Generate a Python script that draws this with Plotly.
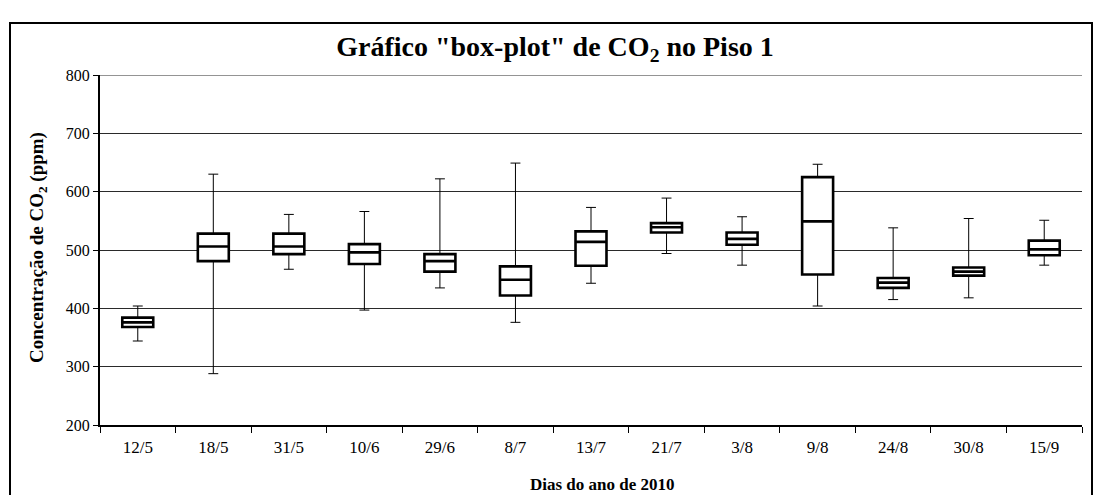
import plotly.graph_objects as go

dates = ["12/5", "18/5", "31/5", "10/6", "29/6", "8/7", "13/7",
         "21/7", "3/8", "9/8", "24/8", "30/8", "15/9"]
lower = [344, 288, 467, 397, 435, 376, 443, 494, 474, 404, 415, 418, 474]
q1 = [368, 481, 493, 476, 463, 422, 473, 530, 509, 458, 435, 456, 491]
median = [376, 506, 506, 496, 481, 449, 514, 539, 519, 549, 444, 463, 501]
q3 = [384, 528, 528, 510, 493, 472, 532, 546, 530, 625, 452, 470, 516]
upper = [404, 630, 561, 566, 622, 649, 573, 589, 557, 647, 538, 554, 551]
y_range = [200, 800]

FONT = "Liberation Serif, Times New Roman, serif"
W, H = 1100, 495
ML, MR, MT, MB = 100, 18, 75, 70
PW, PH = W - ML - MR, H - MT - MB

fig = go.Figure()
# whiskers (thin)
fig.add_trace(go.Box(
    x=dates, q1=q1, median=median, q3=q3, lowerfence=lower, upperfence=upper,
    line=dict(color="black", width=1), fillcolor="white",
    whiskerwidth=0.32, width=0.41, boxpoints=False, showlegend=False,
    hoverinfo="skip"))
# boxes (thick)
fig.add_trace(go.Box(
    x=dates, q1=q1, median=median, q3=q3, lowerfence=q1, upperfence=q3,
    line=dict(color="black", width=2.6), fillcolor="white",
    whiskerwidth=0, width=0.41, boxpoints=False, showlegend=False,
    hoverinfo="skip"))


def px_x(p):
    return (p - ML) / PW


def px_y(p):
    return (H - MB - p) / PH


fig.update_layout(
    width=W, height=H,
    margin=dict(l=ML, r=MR, t=MT, b=MB),
    paper_bgcolor="white", plot_bgcolor="white",
    font=dict(family=FONT, color="black", size=16),
    boxmode="overlay",
    title=dict(text='Gráfico "box-plot" de CO<sub>2</sub> no Piso 1',
               x=555 / W, xanchor="center", xref="container",
               y=1 - 46 / H, yanchor="middle", yref="container",
               font=dict(family=FONT, size=28, color="black", weight="bold")),
    xaxis=dict(type="category", categoryorder="array", categoryarray=dates,
               range=[-0.5, len(dates) - 0.5], autorange=False,
               showgrid=False, showline=True, linecolor="black", linewidth=2,
               ticks="outside", tickson="boundaries", ticklen=6,
               tickcolor="black", tickwidth=1, ticklabelstandoff=6,
               tickfont=dict(family=FONT, size=17), zeroline=False),
    yaxis=dict(range=y_range, dtick=100, showgrid=True,
               gridcolor="#2a2a2a", gridwidth=1,
               showline=True, linecolor="black", linewidth=2,
               ticks="outside", ticklen=5, tickcolor="black", tickwidth=1,
               ticklabelstandoff=0,
               tickfont=dict(family=FONT, size=16), zeroline=False),
    annotations=[
        dict(text="Dias do ano de 2010", xref="paper", yref="paper",
             x=px_x(602), y=px_y(484), xanchor="center", yanchor="middle",
             showarrow=False,
             font=dict(family=FONT, size=17, color="black", weight="bold")),
        dict(text="Concentração de CO<sub>2</sub> (ppm)", xref="paper",
             yref="paper", x=px_x(38), y=px_y(248), xanchor="center",
             yanchor="middle", textangle=-90, showarrow=False,
             font=dict(family=FONT, size=19, color="black", weight="bold")),
    ],
    shapes=[
        dict(type="rect", xref="paper", yref="paper",
             x0=px_x(10), x1=px_x(1092), y0=px_y(510), y1=px_y(23),
             line=dict(color="black", width=2), layer="below"),
        dict(type="line", xref="paper", yref="y", x0=0, x1=1,
             y0=y_range[1], y1=y_range[1],
             line=dict(color="#2a2a2a", width=1), layer="below"),
    ],
)

fig.write_html("out.html")
